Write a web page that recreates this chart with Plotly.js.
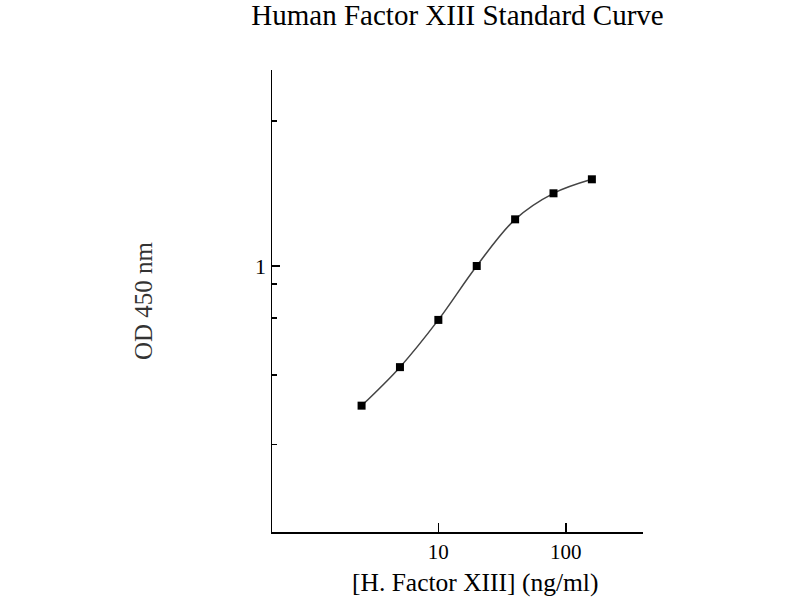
<!DOCTYPE html>
<html>
<head>
<meta charset="utf-8">
<script src="https://cdn.plot.ly/plotly-3.0.1.min.js"></script>
<style>
  body { margin: 0; background: #fff; }
  #chart { width: 800px; height: 600px; }
</style>
</head>
<body>
<div id="chart"></div>
<script>
// standard concentrations (ng/ml) and measured OD at 450 nm
const concentration = [2.5, 5, 10, 20, 40, 80, 160];
const od450 = [0.503, 0.608, 0.767, 1.0, 1.258, 1.430, 1.532];

const x_ticks = [10, 100];
const x_tick_labels = ['10', '100'];
const y_ticks = [1];
const y_tick_labels = ['1'];
// unlabelled marks on the OD axis
const y_minor_ticks = [2.04, 0.915, 0.774, 0.585, 0.415];

const x_title = '[H. Factor XIII] (ng/ml)';
const y_title = 'OD 450 nm';

const serif = 'Liberation Serif, Times New Roman, serif';

let curve = {
    x: concentration,
    y: od450,
    type: 'scatter',
    mode: 'lines+markers',
    line: {shape: 'spline', color: '#444', width: 1.5},
    marker: {symbol: 'square', size: 8, color: '#000'},
    cliponaxis: false,
    hoverinfo: 'x+y',
};

let layout = {
    width: 800,
    height: 600,
    margin: {l: 272, r: 157, t: 70, b: 68},
    paper_bgcolor: '#fff',
    plot_bgcolor: '#fff',
    showlegend: false,
    font: {family: serif, color: '#000', size: 22},
    title: {
        text: 'Human Factor XIII Standard Curve',
        font: {family: serif, size: 29, color: '#000'},
        x: 0.5,
        xref: 'paper',
        y: 0.976,
        yanchor: 'middle',
    },
    xaxis: {
        type: 'log',
        range: [-0.3046, 2.605],
        tickmode: 'array',
        tickvals: x_ticks,
        ticktext: x_tick_labels,
        ticks: 'inside',
        ticklen: 9,
        tickwidth: 1.5,
        tickcolor: '#000',
        showline: true,
        linecolor: '#000',
        linewidth: 1.5,
        showgrid: false,
        zeroline: false,
        tickfont: {family: serif, size: 21, color: '#000'},
    },
    yaxis: {
        type: 'log',
        range: [-0.5684, 0.4188],
        tickmode: 'array',
        tickvals: y_ticks,
        ticktext: y_tick_labels,
        ticks: 'inside',
        ticklen: 8,
        tickwidth: 1.5,
        tickcolor: '#000',
        minor: {
            tickmode: 'array',
            tickvals: y_minor_ticks,
            ticks: 'inside',
            ticklen: 5,
            tickwidth: 1.5,
            tickcolor: '#000',
            showgrid: false,
        },
        showline: true,
        linecolor: '#000',
        linewidth: 1.5,
        showgrid: false,
        zeroline: false,
        tickfont: {family: serif, size: 22, color: '#000'},
        title: {
            text: y_title,
            font: {family: serif, size: 25, color: '#333'},
            standoff: 95,
        },
    },
    // x title sits a little right of the plot centre in the original
    annotations: [{
        text: x_title,
        xref: 'paper', yref: 'paper',
        x: 0.546, y: -0.110,
        xanchor: 'center', yanchor: 'middle',
        showarrow: false,
        font: {family: serif, size: 25.5, color: '#000'},
    }],
};

Plotly.newPlot('chart', [curve], layout, {displayModeBar: false, staticPlot: true});
</script>
</body>
</html>
